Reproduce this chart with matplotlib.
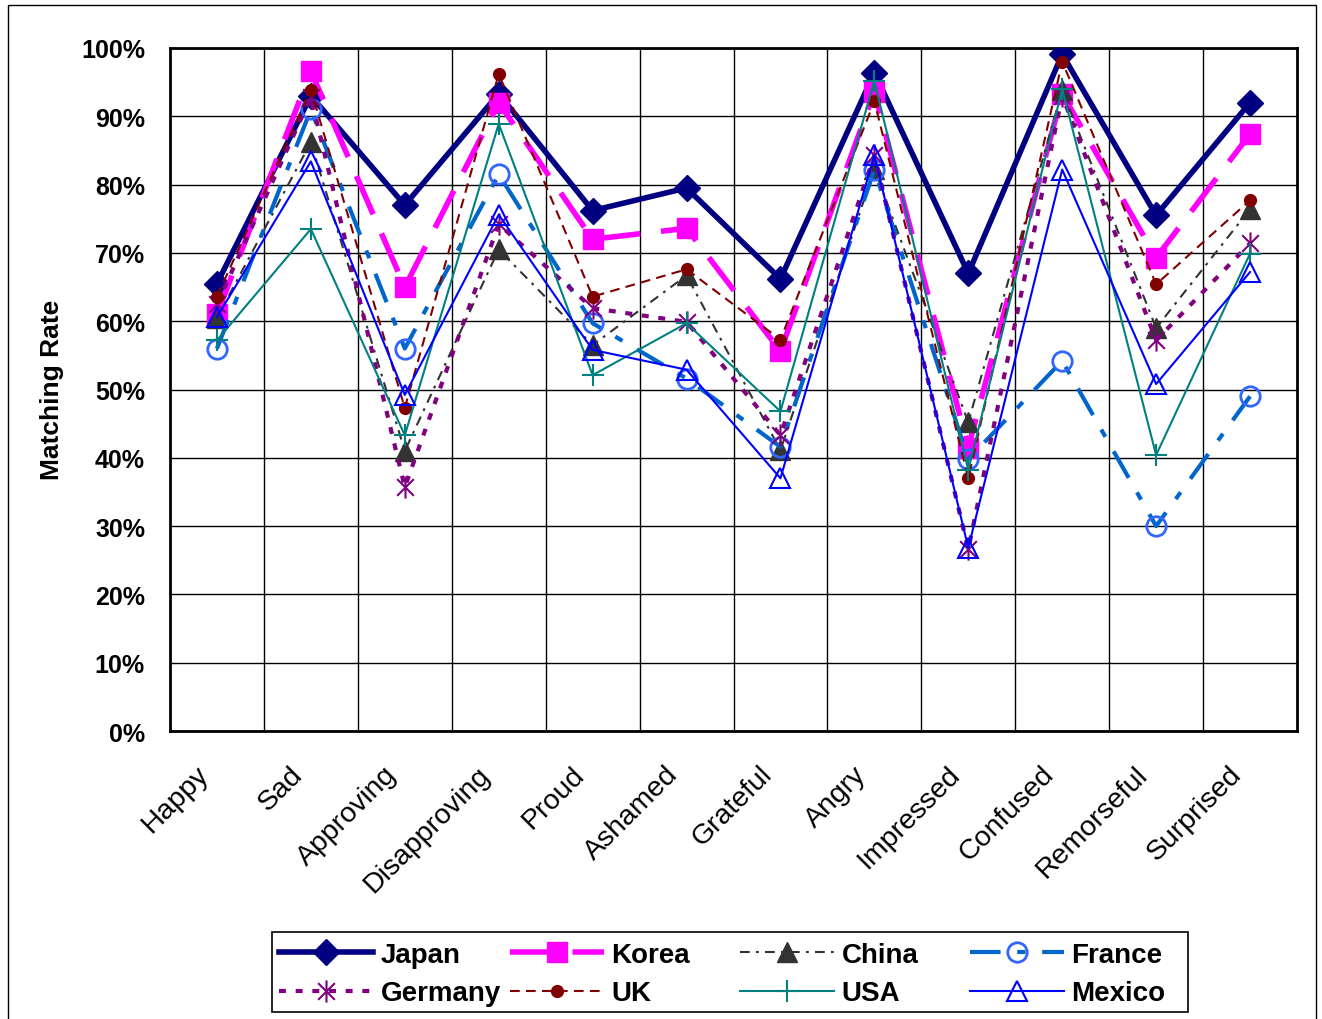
import matplotlib
matplotlib.use('Agg')
import matplotlib.pyplot as plt
from matplotlib.path import Path
from matplotlib.font_manager import fontManager
from matplotlib.ticker import FuncFormatter, FixedLocator
from matplotlib.patches import Rectangle
import matplotlib.transforms as mtransforms

categories = ['Happy', 'Sad', 'Approving', 'Disapproving', 'Proud', 'Ashamed',
              'Grateful', 'Angry', 'Impressed', 'Confused', 'Remorseful', 'Surprised']
japan = [65.5, 93.0, 77.0, 93.3, 76.2, 79.5, 66.2, 96.4, 67.0, 99.1, 75.5, 92.0]
korea = [61.0, 96.6, 65.0, 92.0, 72.0, 73.6, 55.6, 93.6, 41.5, 93.3, 69.3, 87.4]
china = [60.5, 86.2, 41.0, 70.5, 56.5, 66.7, 41.1, 82.3, 45.2, 93.8, 59.0, 76.4]
france = [56.0, 91.0, 56.0, 81.5, 59.7, 51.6, 41.6, 82.2, 39.8, 54.2, 30.0, 49.0]
germany = [62.5, 92.8, 35.7, 74.2, 61.9, 59.9, 43.3, 84.3, 26.6, 93.0, 57.2, 71.4]
uk = [63.6, 93.9, 47.3, 96.2, 63.6, 67.6, 57.3, 92.2, 37.0, 98.0, 65.4, 77.7]
usa = [57.2, 73.5, 43.3, 88.9, 52.1, 59.7, 46.8, 95.2, 38.2, 94.0, 40.4, 69.9]
mexico = [60.6, 83.4, 49.2, 75.6, 55.8, 52.9, 37.0, 84.3, 26.8, 82.2, 50.8, 67.2]
y_ticks = [0, 10, 20, 30, 40, 50, 60, 70, 80, 90, 100]

names = {f.name for f in fontManager.ttflist}
base = 'Liberation Sans' if 'Liberation Sans' in names else 'DejaVu Sans'
plt.rcParams['font.family'] = [base, 'DejaVu Sans']
plt.rcParams['lines.scale_dashes'] = False

star = Path([(0, -1), (0, 1), (-0.75, -0.75), (0.75, 0.75), (-0.75, 0.75), (0.75, -0.75)],
            [Path.MOVETO, Path.LINETO, Path.MOVETO, Path.LINETO, Path.MOVETO, Path.LINETO])

series = [
    ('Japan', japan, dict(color='#000080', lw=4, ls='-', marker='D', ms=13,
                          mfc='#000080', mec='#000080')),
    ('Korea', korea, dict(color='#FF00FF', lw=4, dashes=(30, 15), marker='s', ms=14,
                          mfc='#FF00FF', mec='#FF00FF')),
    ('China', china, dict(color='#333333', lw=1.5, dashes=(7, 4.5, 2, 4.5), marker='^', ms=15,
                          mfc='#333333', mec='#333333')),
    ('France', france, dict(color='#0066CC', lw=3, dashes=(22, 12, 6, 12), marker='o', ms=14,
                            mfc='none', mec='#3366FF', mew=2)),
    ('Germany', germany, dict(color='#800080', lw=3, dashes=(5, 7), marker=star, ms=16,
                              mfc='none', mec='#800080', mew=1.5)),
    ('UK', uk, dict(color='#800000', lw=1.5, dashes=(7, 4.5), marker='o', ms=8.5,
                    mfc='#800000', mec='#800000')),
    ('USA', usa, dict(color='#008080', lw=1.5, ls='-', marker='+', ms=16, mew=1.5,
                      mec='#008080')),
    ('Mexico', mexico, dict(color='#0000FF', lw=1.5, ls='-', marker='^', ms=14,
                            mfc='none', mec='#0000FF', mew=1.5)),
]

W, H = 1322, 1020
fig = plt.figure(figsize=(W / 100, H / 100), dpi=100)
ax = fig.add_axes([170 / W, 1 - 732 / H, 1127 / W, 683 / H])

x = list(range(len(categories)))
handles = {}
for i, (name, vals, st) in enumerate(series):
    ln, = ax.plot(x, vals, label=name, zorder=3 + i, **st)
    handles[name] = ln

ax.set_xlim(-0.5, len(categories) - 0.5)
ax.set_ylim(0, 100)
ax.set_yticks(y_ticks)
ax.yaxis.set_major_formatter(FuncFormatter(lambda v, p: f'{int(v)}%'))
ax.set_xticks(x)
ax.set_xticklabels(categories)
ax.xaxis.set_minor_locator(FixedLocator([i + 0.5 for i in range(len(categories) - 1)]))

ax.grid(True, axis='y', which='major', color='black', lw=1)
ax.grid(True, axis='x', which='minor', color='black', lw=1)
ax.set_axisbelow(True)
for s in ax.spines.values():
    s.set_linewidth(2)
    s.set_color('black')

ax.tick_params(axis='y', length=0, pad=18, labelsize=18)
ax.tick_params(axis='x', which='both', length=0, pad=28, labelsize=20.5)
for lab in ax.get_yticklabels():
    lab.set_fontweight('bold')
offset = mtransforms.ScaledTranslation(-9 / 72, 0, fig.dpi_scale_trans)
for lab in ax.get_xticklabels():
    lab.set_rotation(45)
    lab.set_ha('right')
    lab.set_va('center')
    lab.set_rotation_mode('anchor')
    lab.set_transform(lab.get_transform() + offset)

fig.text(52 / W, 1 - 390 / H, 'Matching Rate', rotation=90, ha='center', va='center',
         fontsize=19, fontweight='bold')

# legend: four columns of equal width inside one box
columns = [['Japan', 'Germany'], ['Korea', 'UK'], ['China', 'USA'], ['France', 'Mexico']]
col_x = [279, 510, 740, 970]
for cx, col in zip(col_x, columns):
    fig.legend([handles[n] for n in col], col, loc='center left',
               bbox_to_anchor=(cx / W, 1 - 975 / H), ncol=1, numpoints=1,
               frameon=False, handlelength=3.4, handletextpad=0.25,
               borderpad=0, borderaxespad=0, labelspacing=0.45,
               prop={'weight': 'bold', 'size': 20})

fig.add_artist(Rectangle((272 / W, 1 - 1013 / H), 916 / W, 80 / H,
                         transform=fig.transFigure, fill=False, edgecolor='black', lw=1.2))
fig.add_artist(Rectangle((8 / W, -0.01), 1308 / W, 1.01 - 6 / H,
                         transform=fig.transFigure, fill=False, edgecolor='black', lw=1))

fig.savefig('out.png', dpi=100, facecolor='white')
